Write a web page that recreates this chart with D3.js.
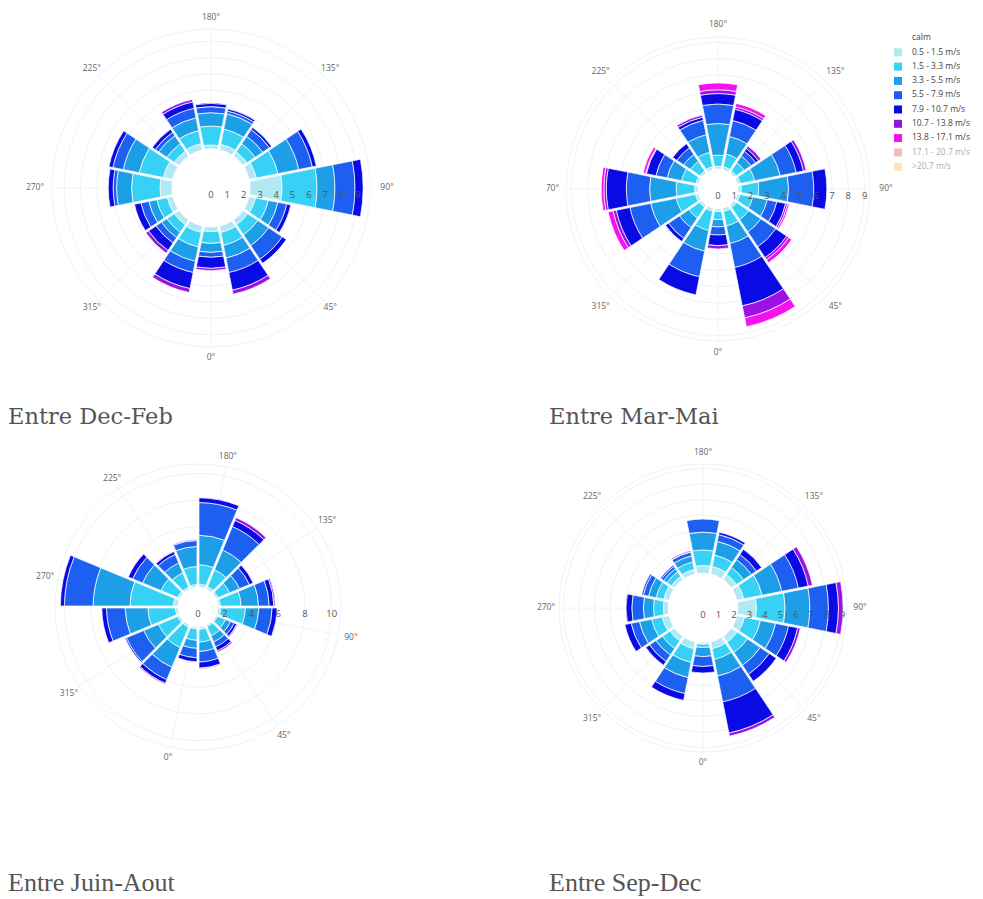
<!DOCTYPE html>
<html><head><meta charset="utf-8">
<script src="https://cdn.jsdelivr.net/npm/d3@7"></script>
<style>body{margin:0;background:#fff;} svg{display:block;}</style>
</head><body>
<svg id="chart" width="983" height="899"></svg>
<script>
// ---------- data ----------
const directions = [0, 22.5, 45, 67.5, 90, 112.5, 135, 157.5, 180, 202.5, 225, 247.5, 270, 292.5, 315, 337.5];
const angularTicks = [0, 45, 90, 135, 180, 225, 270, 315];
const angularTickLabels = ["0°", "45°", "90°", "135°", "180°", "225°", "270°", "315°"];
const speedBins = ["calm", "0.5 - 1.5 m/s", "1.5 - 3.3 m/s", "3.3 - 5.5 m/s", "5.5 - 7.9 m/s",
  "7.9 - 10.7 m/s", "10.7 - 13.8 m/s", "13.8 - 17.1 m/s", "17.1 - 20.7 m/s", ">20.7 m/s"];
const hiddenBins = ["17.1 - 20.7 m/s", ">20.7 m/s"];
const binColors = ["#ffffff", "#b0e8f4", "#36d1f4", "#1d9fe8", "#1d5ff0", "#0a0ae4", "#9a12e4", "#f412ef", "#d8716f", "#ffbf78"];
const seasonTitles = ["Entre Dec-Feb", "Entre Mar-Mai", "Entre Juin-Aout", "Entre Sep-Dec"];
const radialTicks1 = [0, 1, 2, 3, 4, 5, 6, 7, 8, 9];
const radialTicks2 = [0, 1, 2, 3, 4, 5, 6, 7, 8, 9];
const radialTicks3 = [0, 2, 4, 6, 8, 10];
const radialTicks4 = [0, 1, 2, 3, 4, 5, 6, 7, 8, 9];

// rows: calm, 0.5-1.5, 1.5-3.3, 3.3-5.5, 5.5-7.9, 7.9-10.7, 10.7-13.8, 13.8-17.1 ; columns: directions
const decFeb = [
  [2.4, 2.4, 2.4, 2.4, 2.4, 2.4, 2.4, 2.4, 2.4, 2.4, 2.4, 2.4, 2.4, 2.4, 2.4, 2.4],
  [0.28, 0.4, 0.35, 0.4, 1.96, 0.45, 0.3, 0.35, 0.24, 0.4, 0.35, 0.6, 0.73, 0.35, 0.35, 0.4],
  [0.72, 0.8, 0.75, 0.8, 2.14, 1.35, 0.6, 0.95, 1.16, 0.8, 0.55, 1.5, 1.74, 0.65, 0.55, 0.9],
  [0.55, 0.8, 0.8, 0.6, 1.1, 1.3, 0.55, 0.95, 0.82, 0.8, 0.6, 1.0, 0.92, 0.5, 0.4, 0.9],
  [0.3, 0.9, 1.0, 0.55, 1.23, 0.85, 0.5, 0.17, 0.37, 0.6, 0.25, 0.65, 0.21, 0.5, 0.4, 0.7],
  [0.68, 1.1, 0.3, 0.25, 0.5, 0.25, 0.15, 0.13, 0.2, 0.4, 0.22, 0.25, 0.3, 0.4, 0.55, 1.0],
  [0.14, 0.25, 0, 0, 0, 0, 0, 0, 0, 0.15, 0, 0, 0, 0, 0.2, 0.25],
  [0, 0, 0, 0, 0, 0, 0, 0, 0, 0, 0, 0, 0, 0, 0, 0]
];
const marMai = [
  [1.23, 1.23, 1.23, 1.23, 1.23, 1.23, 1.23, 1.23, 1.23, 1.23, 1.23, 1.23, 1.23, 1.23, 1.23, 1.23],
  [0.15, 0.2, 0.18, 0.17, 0.2, 0.18, 0.15, 0.17, 0.16, 0.18, 0.15, 0.17, 0.2, 0.2, 0.16, 0.18],
  [0.5, 0.9, 0.9, 0.8, 1.07, 0.9, 0.6, 0.8, 0.69, 0.9, 0.7, 0.9, 1.14, 1.2, 0.8, 1.2],
  [0.45, 1.1, 0.9, 0.9, 1.83, 1.6, 0.5, 1.1, 1.94, 1.1, 0.5, 0.9, 1.63, 1.6, 0.7, 1.3],
  [0.5, 1.5, 1.1, 0.6, 1.55, 1.0, 0.35, 1.0, 1.2, 0.9, 0.5, 0.7, 1.43, 1.3, 0.8, 1.6],
  [0.65, 2.4, 0.8, 0.55, 0.8, 0.45, 0.2, 0.7, 0.64, 0.2, 0.31, 0.6, 1.23, 0.85, 0.23, 1.13],
  [0.2, 0.75, 0.15, 0.12, 0, 0.17, 0.18, 0.15, 0.23, 0.13, 0, 0.05, 0.15, 0.2, 0, 0],
  [0, 0.55, 0.23, 0.1, 0, 0, 0, 0.22, 0.42, 0, 0, 0.15, 0.16, 0.31, 0, 0]
];
const juinAout = [
  [1.5, 1.5, 1.5, 1.5, 1.5, 1.5, 1.5, 1.5, 1.5, 1.5, 1.5, 1.5, 1.5, 1.5, 1.5, 1.5],
  [0.15, 0.18, 0.12, 0.12, 0.2, 0.18, 0.15, 0.2, 0.22, 0.18, 0.15, 0.18, 0.35, 0.2, 0.18, 0.17],
  [0.85, 0.95, 0.75, 0.65, 1.85, 1.55, 0.95, 1.35, 1.45, 1.35, 1.15, 1.35, 3.25, 2.05, 1.55, 1.65],
  [0.6, 0.7, 0.5, 0.4, 1.0, 1.3, 0.8, 1.6, 2.2, 1.5, 0.8, 1.5, 2.75, 1.7, 1.2, 1.6],
  [0.7, 0.8, 0.4, 0.3, 1.0, 0.8, 0.8, 1.9, 2.45, 0.45, 0.7, 0.8, 2.15, 1.4, 1.4, 1.0],
  [0.3, 0.45, 0.32, 0.2, 0.37, 0.35, 0.3, 0.5, 0.35, 0.05, 0.22, 0.35, 0.3, 0.35, 0.1, 0.3],
  [0, 0.05, 0.11, 0.07, 0, 0.1, 0, 0.22, 0, 0, 0, 0, 0, 0, 0, 0.07],
  [0, 0, 0, 0, 0, 0, 0, 0, 0, 0, 0, 0, 0, 0, 0, 0]
];
const sepDec = [
  [2.25, 2.25, 2.25, 2.25, 2.25, 2.25, 2.25, 2.25, 2.25, 2.25, 2.25, 2.25, 2.25, 2.25, 2.25, 2.25],
  [0.1, 0.45, 0.45, 0.5, 1.2, 0.45, 0.4, 0.5, 0.5, 0.3, 0.25, 0.35, 0.31, 0.45, 0.35, 0.45],
  [0.2, 0.7, 0.8, 1.05, 1.85, 1.2, 0.55, 0.75, 1.0, 0.5, 0.35, 0.5, 0.64, 0.7, 0.6, 0.9],
  [0.59, 1.1, 1.0, 1.0, 1.6, 1.3, 0.6, 0.9, 1.15, 0.4, 0.25, 0.5, 0.65, 0.8, 0.5, 1.0],
  [0.64, 1.7, 0.7, 0.85, 1.2, 1.1, 0.4, 0.45, 0.84, 0.25, 0.18, 0.35, 0.75, 0.55, 0.5, 1.05],
  [0.42, 2.05, 0.54, 0.6, 0.65, 0.65, 0.4, 0.15, 0, 0.02, 0.08, 0.1, 0.37, 0.41, 0.29, 0.45],
  [0, 0.2, 0, 0.17, 0.3, 0.27, 0, 0, 0, 0.07, 0, 0, 0, 0, 0, 0],
  [0, 0, 0, 0, 0, 0, 0, 0, 0, 0, 0, 0, 0, 0, 0, 0]
];

// ---------- layout ----------
const panels = [
  {data: decFeb, ticks: radialTicks1, title: seasonTitles[0], cx: 211, cy: 188, R: 159, max: 9.75, rot: 0,
   lr: 168, lrTop: 2, lrSide: 8, tx: 8, ty: 424, font: "DejaVu Serif, serif", fs: 22.5},
  {data: marMai, ticks: radialTicks2, title: seasonTitles[1], cx: 718, cy: 189, R: 152, max: 9.33, rot: 0,
   lr: 166, lrTop: -2, lrSide: 2, tx: 549, ty: 424, font: "DejaVu Serif, serif", fs: 22.5, clipX: 547, legend: true},
  {data: juinAout, ticks: radialTicks3, title: seasonTitles[2], cx: 198, cy: 607, R: 143, max: 10.7, rot: 11.25,
   lr: 155, lrTop: -2, lrSide: 1, tx: 8, ty: 891, font: "Liberation Serif, serif", fs: 26},
  {data: sepDec, ticks: radialTicks4, title: seasonTitles[3], cx: 703, cy: 608, R: 144, max: 9.3, rot: 0,
   lr: 157, lrTop: -2, lrSide: 0, tx: 549, ty: 891, font: "Liberation Serif, serif", fs: 26}
];

const svg = d3.select("#chart");
const defs = svg.append("defs");
const gridColor = "#eef2f8";
const half = 11.25;

panels.forEach((p, pi) => {
  let g = svg.append("g");
  if (p.clipX !== undefined) {
    defs.append("clipPath").attr("id", "clip" + pi)
      .append("rect").attr("x", p.clipX).attr("y", 0).attr("width", 983 - p.clipX).attr("height", 440);
    g.attr("clip-path", `url(#clip${pi})`);
  }
  const pg = g.append("g").attr("transform", `translate(${p.cx},${p.cy})`);
  const r = d3.scaleLinear().domain([0, p.max]).range([0, p.R]);
  const ang = d3.scaleLinear().domain([0, 360]).range([(180 + p.rot) * Math.PI / 180, (180 + p.rot - 360) * Math.PI / 180]);

  // grid circles
  const gridVals = p.ticks.filter(t => t > 0 && t < p.max);
  pg.selectAll("circle.grid").data(gridVals).join("circle")
    .attr("r", d => r(d)).attr("fill", "none").attr("stroke", gridColor).attr("stroke-width", 1);
  pg.append("circle").attr("r", p.R).attr("fill", "none").attr("stroke", gridColor).attr("stroke-width", 1);
  // spokes
  pg.selectAll("line.spoke").data(angularTicks).join("line")
    .attr("x1", 0).attr("y1", 0)
    .attr("x2", d => p.R * Math.sin(ang(d))).attr("y2", d => -p.R * Math.cos(ang(d)))
    .attr("stroke", gridColor).attr("stroke-width", 1);

  // stacked bars
  const rows = directions.map((dir, i) => {
    const o = {dir};
    p.data.forEach((vals, b) => { o["b" + b] = vals[i]; });
    return o;
  });
  const keys = p.data.map((_, b) => "b" + b);
  const stacked = d3.stack().keys(keys)(rows);
  const arc = d3.arc().padAngle(0.02).padRadius(100);
  stacked.forEach((series, b) => {
    pg.append("g").selectAll("path").data(series.filter(s => s[1] - s[0] > 0)).join("path")
      .attr("d", s => arc({
        innerRadius: r(s[0]), outerRadius: r(s[1]),
        startAngle: ang(s.data.dir) - half * Math.PI / 180,
        endAngle: ang(s.data.dir) + half * Math.PI / 180
      }))
      .attr("fill", binColors[b]).attr("stroke", "#fff").attr("stroke-width", 0.7);
  });

  // radial tick labels (above traces)
  pg.selectAll("text.rt").data(p.ticks).join("text")
    .attr("x", d => r(d)).attr("y", 7)
    .attr("text-anchor", "middle").attr("dominant-baseline", "middle")
    .attr("font-family", "Open Sans, sans-serif").attr("font-size", 9.5).attr("fill", "#555")
    .text(d => d);

  // angular labels
  const labDist = d => {
    const a = ang(d);
    return p.lr + p.lrTop * Math.pow(Math.cos(a), 8) + p.lrSide * Math.pow(Math.sin(a), 8);
  };
  pg.selectAll("text.at").data(angularTicks).join("text")
    .attr("x", d => labDist(d) * Math.sin(ang(d)))
    .attr("y", d => -labDist(d) * Math.cos(ang(d)))
    .attr("text-anchor", "middle").attr("dominant-baseline", "middle")
    .attr("font-family", "Open Sans, sans-serif").attr("font-size", 8.5).attr("fill", "#666")
    .text((d, i) => angularTickLabels[i]);

  // caption
  svg.append("text").attr("x", p.tx).attr("y", p.ty)
    .attr("font-family", p.font).attr("font-size", p.fs).attr("fill", "#555")
    .text(p.title);

  if (p.legend) {
    const lg = svg.append("g").attr("transform", "translate(886,30)");
    lg.append("rect").attr("x", 0).attr("y", 0).attr("width", 97).attr("height", 145).attr("fill", "#fff");
    const items = lg.selectAll("g.li").data(speedBins).join("g")
      .attr("transform", (d, i) => `translate(0,${8 + i * 14.3})`)
      .attr("opacity", d => hiddenBins.includes(d) ? 0.45 : 1);
    items.append("rect").attr("x", 8).attr("y", -4).attr("width", 8).attr("height", 8)
      .attr("fill", (d, i) => binColors[i]);
    items.append("text").attr("x", 26).attr("y", 0).attr("dominant-baseline", "middle")
      .attr("font-family", "Open Sans, sans-serif").attr("font-size", 8.5).attr("fill", "#444")
      .text(d => d);
  }
});
</script>
</body></html>
